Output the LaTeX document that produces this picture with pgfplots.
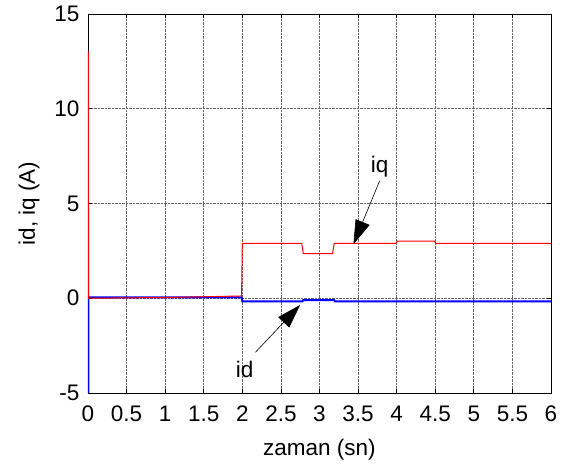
\documentclass[border=0pt]{standalone}
\usepackage{pgfplots}
\pgfplotsset{compat=1.18}
\usepackage{fontspec}
\setmainfont{Liberation Sans}
\usetikzlibrary{arrows.meta}

\newcommand{\plotfont}{\fontsize{22.5}{26}\selectfont}

\begin{document}
\begin{tikzpicture}
\useasboundingbox (-88pt,-78pt) rectangle (480pt,393pt);
\begin{axis}[
  scale only axis,
  width=463pt, height=379pt,
  xmin=0, xmax=6, ymin=-5, ymax=15,
  xtick={0,0.5,...,6},
  ytick={-5,0,5,10,15},
  xticklabels={0,0.5,1,1.5,2,2.5,3,3.5,4,4.5,5,5.5,6},
  tick align=inside,
  major tick length=4pt,
  grid=major,
  major grid style={densely dotted, black!60, line width=0.7pt},
  axis line style={line width=0.8pt},
  tick style={black, line width=0.7pt},
  /pgf/number format/assume math mode=true,
  tick label style={font=\plotfont},
  xticklabel style={yshift=-9pt},
  yticklabel style={xshift=-5pt},
  label style={font=\plotfont},
  xlabel={zaman (sn)},
  ylabel={id, iq (A)},
  xlabel style={yshift=-11pt},
  ylabel style={yshift=8pt},
]
% d-axis current
\addplot[color=blue, line width=2pt] coordinates {
 (0,0) (0,-5.5) (0.004,-5.5) (0.006,0.05) (0.5,0.05) (1,0.05) (1.5,0.05) (1.99,0.05)
 (2,-0.16) (2.78,-0.16) (2.79,-0.1) (3.19,-0.1) (3.2,-0.16) (4,-0.16) (6,-0.16)
};
% q-axis current
\addplot[color=red, line width=1pt] coordinates {
 (0,0) (0,13) (0.004,13) (0.008,0) (0.5,0.02) (1,0.04) (1.5,0.08) (1.99,0.12)
 (2,2.89) (2.77,2.89) (2.79,2.36) (3.17,2.36) (3.19,2.89) (3.99,2.89)
 (4.01,3.02) (4.49,3.02) (4.51,2.89) (6,2.89)
};
% labels with pointers
\draw[-{Triangle[length=24pt,width=15pt]}, line width=0.6pt] (axis cs:3.78,6.2) -- (axis cs:3.44,2.85);
\node[font=\plotfont] at (axis cs:3.78,6.95) {iq};
\draw[-{Triangle[length=24pt,width=15pt]}, line width=0.6pt] (axis cs:2.17,-2.85) -- (axis cs:2.75,-0.35);
\node[font=\plotfont] at (axis cs:2.03,-3.75) {id};
\end{axis}
\end{tikzpicture}
\end{document}
